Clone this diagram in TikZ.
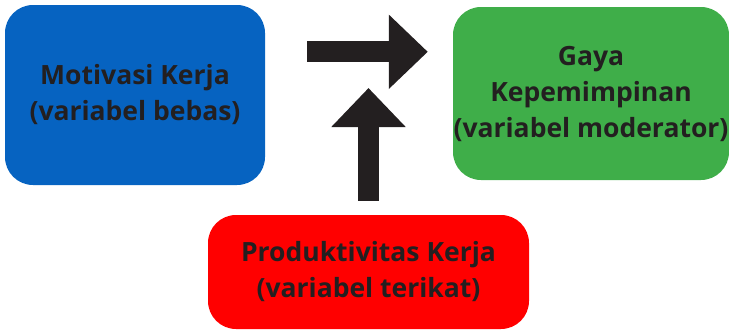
\documentclass[tikz,border=0pt]{standalone}
\usepackage{fontspec}
\setmainfont{Open Sans}
\usetikzlibrary{arrows.meta}
\definecolor{boxblue}{RGB}{6,99,193}
\definecolor{boxgreen}{RGB}{63,174,73}
\definecolor{boxred}{RGB}{255,0,0}
\definecolor{inkdark}{RGB}{35,31,32}
\begin{document}
\begin{tikzpicture}[
    x=1pt, y=-1pt,
    varbox/.style={rounded corners=28pt, inner sep=0pt, align=center, text=inkdark,
      font=\fontsize{26.5}{36}\selectfont\bfseries},
    bigarrow/.style={draw=inkdark, line width=21pt,
      -{Triangle[length=39pt, width=72pt]}}
    ]
	\useasboundingbox (0,0) rectangle (729,330);
	\node [varbox, fill=boxblue, minimum width=260pt, minimum height=180pt] (bebas) at (135,95)
		{Motivasi Kerja\\(variabel bebas)};
	\node [varbox, fill=boxgreen, minimum width=276pt, minimum height=173pt] (moderator) at (591,93.5)
		{Gaya\\Kepemimpinan\\(variabel moderator)};
	\node [varbox, fill=boxred, minimum width=321pt, minimum height=114pt] (terikat) at (368.5,272)
		{Produktivitas Kerja\\(variabel terikat)};
	\coordinate (join) at (368.5,88);
	\draw [bigarrow, shorten <=42pt, shorten >=25pt]
		([yshift=-47pt]bebas.north east) -- ([yshift=-45pt]moderator.north west);
	\draw [bigarrow, shorten <=14pt] (terikat.north) -- (join);
\end{tikzpicture}
\end{document}
